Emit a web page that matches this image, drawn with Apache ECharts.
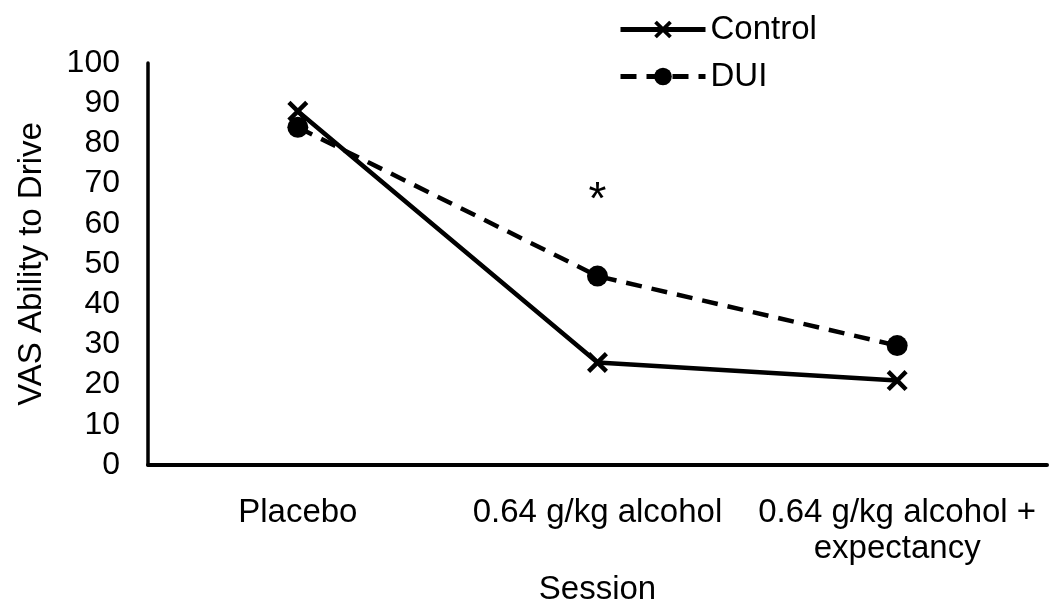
<!DOCTYPE html>
<html><head><meta charset="utf-8">
<script src="https://cdn.jsdelivr.net/npm/echarts@6/dist/echarts.min.js"></script>
<style>html,body{margin:0;padding:0;background:#fff}#c{width:1053px;height:611px}</style>
</head><body><div id="c"></div>
<script>
const categories = ['Placebo', '0.64 g/kg alcohol', '0.64 g/kg alcohol +\nexpectancy'];
const controlValues = [88, 25.5, 21];
const duiValues = [84, 47, 29.7];
const yTicks = [0, 10, 20, 30, 40, 50, 60, 70, 80, 90, 100];
const annotation = { category: 1, value: 65.5, text: '*' };

const FONT = 'Liberation Sans, Arial, sans-serif';
const crossPath = 'path://M0,3 L3,0 L10,7 L17,0 L20,3 L13,10 L20,17 L17,20 L10,13 L3,20 L0,17 L7,10 Z';
const chart = echarts.init(document.getElementById('c'));
chart.setOption({
  animation: false,
  backgroundColor: '#fff',
  textStyle: { fontFamily: FONT, color: '#000' },
  grid: { left: 148, right: 6, top: 63, bottom: 143 },
  legend: {
    orient: 'vertical', left: 613, top: 8,
    itemWidth: 85, itemHeight: 22, itemGap: 14,
    lineStyle: { width: 5 },
    textStyle: { fontSize: 33, color: '#000', fontFamily: FONT },
    data: ['Control', 'DUI']
  },
  xAxis: {
    type: 'category', data: categories, boundaryGap: true,
    axisLine: { lineStyle: { color: '#000', width: 4 } },
    axisTick: { show: false },
    axisLabel: { interval: 0, fontSize: 33, color: '#000', fontFamily: FONT, margin: 30, lineHeight: 36 },
    name: 'Session', nameLocation: 'middle', nameGap: 108,
    nameTextStyle: { fontSize: 33, color: '#000', fontFamily: FONT }
  },
  yAxis: {
    type: 'value', min: yTicks[0], max: yTicks[yTicks.length - 1], interval: 10,
    axisLine: { show: true, lineStyle: { color: '#000', width: 3.5 } },
    axisTick: { show: false },
    splitLine: { show: false },
    axisLabel: { fontSize: 32, color: '#000', fontFamily: FONT, margin: 28 },
    name: 'VAS Ability to Drive', nameLocation: 'middle', nameGap: 100,
    nameTextStyle: { fontSize: 33, color: '#000', fontFamily: FONT }
  },
  series: [
    {
      name: 'DUI', type: 'line', data: duiValues,
      symbol: 'circle', symbolSize: 21,
      itemStyle: { color: '#000' },
      lineStyle: { color: '#000', width: 4.5, type: [16, 10] },
      markPoint: {
        symbol: 'circle', symbolSize: 0,
        label: { show: true, formatter: annotation.text, fontSize: 46, color: '#000', fontFamily: FONT },
        data: [{ coord: [annotation.category, annotation.value] }]
      },
      z: 2
    },
    {
      name: 'Control', type: 'line', data: controlValues,
      symbol: crossPath, symbolSize: 21,
      itemStyle: { color: '#000' },
      lineStyle: { color: '#000', width: 4.5 },
      z: 3
    }
  ]
});
</script></body></html>
